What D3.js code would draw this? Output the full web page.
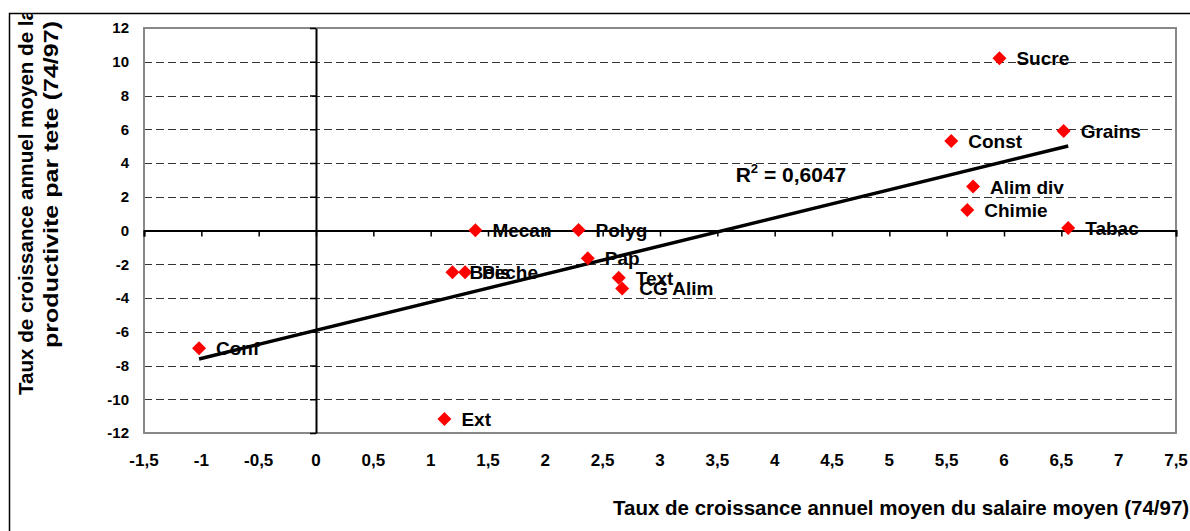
<!DOCTYPE html>
<html>
<head>
<meta charset="utf-8">
<script src="https://cdn.jsdelivr.net/npm/d3@7"></script>
<style>
  body { margin: 0; background: #fff; }
  text { font-family: "Liberation Sans", Arial, sans-serif; font-weight: bold; fill: #000; }
</style>
</head>
<body>
<div id="chart"></div>
<script>
// secteurs et valeurs
var sectors = ["Sucre", "Grains", "Const", "Alim div", "Chimie", "Tabac", "Mecan", "Polyg", "Pap",
               "Bois", "Peche", "Text", "CG Alim", "Conf", "Ext"]
var salaire = [5.96, 6.52, 5.54, 5.73, 5.68, 6.56, 1.39, 2.29, 2.37, 1.19, 1.30, 2.64, 2.67, -1.02, 1.12]
var productivite = [10.2, 5.9, 5.3, 2.6, 1.21, 0.15, 0.02, 0.03, -1.65, -2.48, -2.48, -2.8, -3.43, -6.98, -11.17]
var xTicks = [-1.5, -1, -0.5, 0, 0.5, 1, 1.5, 2, 2.5, 3, 3.5, 4, 4.5, 5, 5.5, 6, 6.5, 7, 7.5]
var yTicks = [-12, -10, -8, -6, -4, -2, 0, 2, 4, 6, 8, 10, 12]
var r2Label = "0,6047"

var width = 1190, height = 531

var svg = d3.select("#chart").append("svg")
    .attr("width", width)
    .attr("height", height)

var x = d3.scaleLinear().domain([-1.5, 7.5]).range([144, 1176])
var y = d3.scaleLinear().domain([-12, 12]).range([433, 28])

var fmt = function(v) { return String(v).replace(".", ",") }

// cadre exterieur
svg.append("path")
    .attr("d", "M9.5," + height + " V13.5 H" + width)
    .attr("fill", "none")
    .attr("stroke", "#000")
    .attr("stroke-width", 1.5)

// lignes de grille pointillees
svg.selectAll(".grid")
    .data(yTicks.filter(function(d) { return d != 0 && Math.abs(d) != 12 }))
    .enter().append("line")
    .attr("class", "grid")
    .attr("x1", x(-1.5)).attr("x2", x(7.5))
    .attr("y1", function(d) { return Math.round(y(d)) + 0.5 }).attr("y2", function(d) { return Math.round(y(d)) + 0.5 })
    .attr("stroke", "#333")
    .attr("stroke-width", 1)
    .attr("stroke-dasharray", "8,4")

// zone de trace
svg.append("rect")
    .attr("x", x(-1.5)).attr("y", y(12))
    .attr("width", x(7.5) - x(-1.5)).attr("height", y(-12) - y(12))
    .attr("fill", "none")
    .attr("stroke", "#888")
    .attr("stroke-width", 2)

// axe horizontal (y = 0) avec graduations vers le bas
svg.append("g")
    .attr("transform", "translate(0," + y(0) + ")")
    .call(d3.axisBottom(x).tickValues(xTicks).tickSize(6).tickFormat(""))
    .call(function(g) {
        g.select(".domain").attr("stroke", "#000").attr("stroke-width", 2)
        g.selectAll(".tick line").attr("stroke", "#000").attr("stroke-width", 1.5)
    })

// axe vertical (x = 0) avec graduations vers la gauche
svg.append("g")
    .attr("transform", "translate(" + x(0) + ",0)")
    .call(d3.axisLeft(y).tickValues(yTicks).tickSize(6).tickSizeOuter(0).tickFormat(""))
    .call(function(g) {
        g.select(".domain").attr("stroke", "#000").attr("stroke-width", 2)
        g.selectAll(".tick line").attr("stroke", "#000").attr("stroke-width", 1.5)
    })

// etiquettes des graduations
svg.selectAll(".xlab")
    .data(xTicks)
    .enter().append("text")
    .attr("class", "xlab")
    .attr("x", function(d) { return x(d) })
    .attr("y", 466)
    .attr("text-anchor", "middle")
    .style("font-size", "17px")
    .text(fmt)

svg.selectAll(".ylab")
    .data(yTicks)
    .enter().append("text")
    .attr("class", "ylab")
    .attr("x", 129)
    .attr("y", function(d) { return y(d) })
    .attr("dy", "0.36em")
    .attr("text-anchor", "end")
    .style("font-size", "15px")
    .text(fmt)

// droite de regression (moindres carres)
var mx = d3.mean(salaire), my = d3.mean(productivite)
var sxy = d3.sum(salaire, function(v, i) { return (v - mx) * (productivite[i] - my) })
var sxx = d3.sum(salaire, function(v) { return (v - mx) * (v - mx) })
var slope = sxy / sxx
var intercept = my - slope * mx
var xExt = d3.extent(salaire)

svg.append("line")
    .attr("x1", x(xExt[0])).attr("y1", y(intercept + slope * xExt[0]))
    .attr("x2", x(xExt[1])).attr("y2", y(intercept + slope * xExt[1]))
    .attr("stroke", "#000")
    .attr("stroke-width", 3.5)

var r2 = svg.append("text")
    .attr("x", x(3.66))
    .attr("y", y(2.85))
    .style("font-size", "21px")
r2.append("tspan").text("R")
r2.append("tspan").attr("dy", -9).style("font-size", "13px").text("2")
r2.append("tspan").attr("dy", 9).text(" = " + r2Label)

// points
var points = sectors.map(function(s, i) { return { name: s, x: salaire[i], y: productivite[i] } })

svg.selectAll(".pt")
    .data(points)
    .enter().append("path")
    .attr("class", "pt")
    .attr("d", d3.symbol(d3.symbolSquare, 98))
    .attr("transform", function(d) { return "translate(" + x(d.x) + "," + y(d.y) + ") rotate(45)" })
    .attr("fill", "#ff0000")

svg.selectAll(".ptlab")
    .data(points)
    .enter().append("text")
    .attr("class", "ptlab")
    .attr("x", function(d) { return x(d.x) + 17 })
    .attr("y", function(d) { return y(d.y) + 7 })
    .style("font-size", "19px")
    .text(function(d) { return d.name })

// titres des axes
svg.append("text")
    .attr("x", 613)
    .attr("y", 515)
    .style("font-size", "20.5px")
    .text("Taux de croissance annuel moyen du salaire moyen (74/97)")

svg.append("clipPath").attr("id", "clipTitle")
    .append("rect").attr("x", 0).attr("y", 14).attr("width", 200).attr("height", height)

var yTitle = svg.append("g")
    .attr("clip-path", "url(#clipTitle)")
    .append("text")
    .attr("transform", "rotate(-90)")
    .style("font-size", "20px")
yTitle.append("tspan").attr("x", -395).attr("y", 33)
    .attr("textLength", 386).attr("lengthAdjust", "spacingAndGlyphs")
    .text("Taux de croissance annuel moyen de la")
yTitle.append("tspan").attr("x", -348).attr("y", 58)
    .attr("textLength", 327).attr("lengthAdjust", "spacingAndGlyphs")
    .text("productivite par tete (74/97)")
</script>
</body>
</html>
